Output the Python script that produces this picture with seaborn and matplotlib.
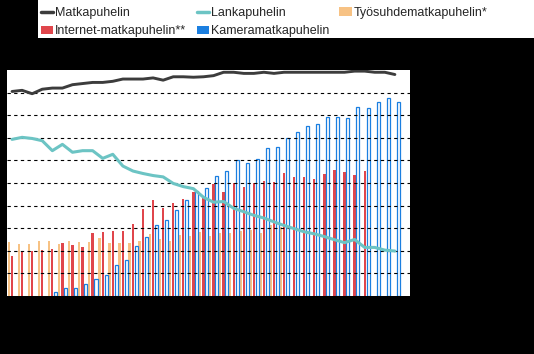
import numpy as np
import pandas as pd
import matplotlib
matplotlib.use("Agg")
import matplotlib.pyplot as plt
import seaborn as sns
from matplotlib.lines import Line2D
from matplotlib.patches import Patch, Rectangle

# ---------------- data ----------------
periods = list(range(39))

matkapuhelin = [90.5, 91.0, 89.5, 91.5, 92.0, 92.0, 93.5, 94.0, 94.5, 94.5,
                95.0, 96.0, 96.0, 96.0, 96.5, 95.5, 97.0, 97.0, 96.8, 97.0,
                97.5, 99.0, 99.0, 98.5, 98.5, 99.0, 98.5, 99.0, 99.0, 99.0,
                99.0, 99.0, 99.0, 99.0, 99.5, 99.5, 99.0, 99.0, 98.0]

lankapuhelin = [69.3, 70.2, 69.7, 68.7, 64.3, 67.1, 63.6, 64.3, 64.3, 60.9,
                62.7, 57.5, 55.3, 54.2, 53.3, 52.7, 49.8, 48.4, 47.5, 43.7,
                41.5, 41.8, 38.8, 37.3, 35.7, 34.5, 32.8, 31.2, 29.8, 28.4,
                27.5, 26.3, 24.9, 23.6, 25.0, 21.5, 21.5, 20.3, 19.9]

tyosuhde = [24.0, 23.0, 23.0, 24.5, 24.3, 23.0, 24.3, 24.0, 24.0, 25.5,
            23.6, 23.6, 23.6, 24.5, 27.4, 25.2, 24.5, 27.0, 26.7, 28.5,
            26.6, 28.0, 28.0, 28.9, 29.2, 28.0, 31.5, 30.5] + [np.nan] * 11

internet = [17.7, 20.0, 20.0, 20.4, 20.8, 23.6, 22.6, 21.5, 28.0, 28.5,
            28.8, 28.8, 31.9, 38.5, 42.5, 39.1, 41.1, 42.8, 46.2, 44.0,
            49.6, 46.2, 50.2, 48.1, 50.2, 51.0, 50.6, 54.6, 52.5, 52.5,
            51.8, 54.0, 55.8, 54.7, 53.5, 55.3] + [np.nan] * 3

kamera = [np.nan] * 4 + [1.6, 3.4, 3.4, 5.2, 7.4, 9.2,
                         13.7, 15.9, 22.1, 26.0, 31.4, 33.6, 38.0, 42.5, 46.6, 47.8,
                         53.1, 55.3, 60.2, 59.0, 60.5, 65.4, 65.8, 69.8, 72.4, 75.2,
                         76.1, 79.1, 79.1, 78.6, 83.5, 83.0, 85.7, 87.5, 85.7]

bar_names = ["Työsuhdematkapuhelin*", "Internet-matkapuhelin**", "Kameramatkapuhelin"]
line_names = ["Matkapuhelin", "Lankapuhelin"]

# ---------------- style ----------------
c_orange = "#f7c284"
c_red = "#e0464c"
c_blue = "#1b7fe0"
c_dark = "#3c3c3c"
c_teal = "#6cc4c4"

sns.set_style("white")
plt.rcParams["font.family"] = ["Liberation Sans", "DejaVu Sans"]

bars = pd.DataFrame({"period": periods,
                     bar_names[0]: tyosuhde,
                     bar_names[1]: internet,
                     bar_names[2]: kamera})
bars = bars.melt(id_vars="period", var_name="series", value_name="value").dropna()

fig = plt.figure(figsize=(5.34, 3.54), dpi=100, facecolor="black")
ax = fig.add_axes([7 / 534, 58 / 354, 403 / 534, 226 / 354])
ax.set_facecolor("white")

sns.barplot(data=bars, x="period", y="value", hue="series", hue_order=bar_names,
            palette=[c_orange, c_red, c_blue], width=1.0, saturation=1,
            errorbar=None, legend=False, ax=ax)

for cont, name in zip(ax.containers, bar_names):
    for p in cont.patches:
        if name == bar_names[2]:
            w = 0.30
            p.set_x(p.get_x() + (p.get_width() - w) / 2)
            p.set_width(w)
            p.set_facecolor("white")
            p.set_edgecolor(c_blue)
            p.set_linewidth(0.9)
        else:
            w = 0.23
            p.set_x(p.get_x() + (p.get_width() - w) / 2)
            p.set_width(w)
            p.set_edgecolor("none")

sns.lineplot(x=periods, y=matkapuhelin, color=c_dark, linewidth=2.1, ax=ax, zorder=4)
sns.lineplot(x=periods, y=lankapuhelin, color=c_teal, linewidth=2.2, ax=ax, zorder=4)

ax.set_xlim(-0.5, 39.5)
ax.set_ylim(0, 100)
ax.set_yticks(range(10, 100, 10))
ax.set_axisbelow(False)
ax.yaxis.grid(True, color="black", linestyle=(0, (3, 3)), linewidth=0.8)
ax.xaxis.grid(False)
for s in ax.spines.values():
    s.set_visible(False)
ax.tick_params(length=0, labelleft=False, labelbottom=False)
ax.set_xlabel("")
ax.set_ylabel("")

# ---------------- legend ----------------
fig.patches.append(Rectangle((38 / 534, 1 - 38 / 354), 1 - 38 / 534, 38 / 354,
                             transform=fig.transFigure, facecolor="white",
                             edgecolor="none", zorder=0))
handles = [Line2D([], [], color=c_dark, lw=2.5),
           Patch(facecolor=c_red, edgecolor="none"),
           Line2D([], [], color=c_teal, lw=2.5),
           Patch(facecolor=c_blue, edgecolor="none"),
           Patch(facecolor=c_orange, edgecolor="none")]
labels = [line_names[0], bar_names[1], line_names[1], bar_names[2], bar_names[0]]
fig.legend(handles, labels, loc="upper left", bbox_to_anchor=(41 / 534, 1 - 7 / 354),
           ncol=3, frameon=False, fontsize=9, handlelength=1.0, handletextpad=0.15,
           columnspacing=0.8, labelspacing=0.5, borderpad=0, borderaxespad=0)

fig.savefig("out.png", dpi=100, facecolor="black")
